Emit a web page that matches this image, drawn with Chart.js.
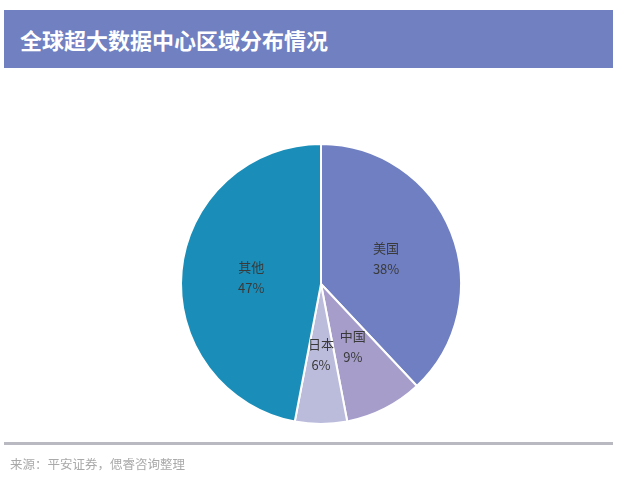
<!DOCTYPE html>
<html>
<head>
<meta charset="utf-8">
<script src="https://cdn.jsdelivr.net/npm/chart.js@4"></script>
<style>
  html, body { margin: 0; padding: 0; background: #fff; }
  body { width: 619px; height: 478px; position: relative; overflow: hidden; font-family: "Noto Sans CJK SC", sans-serif; }
  .title { position: absolute; left: 4px; top: 10px; width: 609px; height: 58px; background: #7080c1; color: #fff; font-weight: bold; font-size: 22px; line-height: 58px; padding-left: 16px; box-sizing: border-box; }
  .wrap { position: absolute; left: 0; top: 0; width: 619px; height: 478px; }
  .rule { position: absolute; left: 4px; top: 442px; width: 609px; height: 3px; background: #b9b9c2; }
  .src { position: absolute; left: 10px; top: 454px; font-size: 12.5px; color: #a9a9a9; }
</style>
</head>
<body>
<div class="title">全球超大数据中心区域分布情况</div>
<div class="wrap"><canvas id="pie"></canvas></div>
<div class="rule"></div>
<div class="src">来源：平安证券，偲睿咨询整理</div>
<script>
const regions = ["美国", "中国", "日本", "其他"];
const shares = [38, 9, 6, 47];
const colors = ["#6f7fc1", "#a69dcb", "#bbbbdc", "#1a8eb8"];

// draw name + percent inside each slice
const sliceLabels = {
  id: "sliceLabels",
  afterDatasetsDraw(chart) {
    const ctx = chart.ctx;
    const meta = chart.getDatasetMeta(0);
    ctx.save();
    ctx.font = '13px "Noto Sans CJK SC", sans-serif';
    ctx.fillStyle = "#3a3a3a";
    ctx.textAlign = "center";
    ctx.textBaseline = "middle";
    meta.data.forEach((arc, i) => {
      const p = arc.tooltipPosition();
      ctx.fillText(regions[i], p.x, p.y - 10);
      ctx.fillText(shares[i] + "%", p.x, p.y + 11);
    });
    ctx.restore();
  }
};

new Chart(document.getElementById("pie"), {
  type: "pie",
  data: {
    labels: regions,
    datasets: [{
      data: shares,
      backgroundColor: colors,
      borderColor: "#fff",
      borderWidth: 2
    }]
  },
  options: {
    responsive: true,
    maintainAspectRatio: false,
    animation: false,
    events: [],
    layout: { padding: { left: 180, right: 157, top: 143, bottom: 53 } },
    plugins: { legend: { display: false }, tooltip: { enabled: false } }
  },
  plugins: [sliceLabels]
});
</script>
</body>
</html>
